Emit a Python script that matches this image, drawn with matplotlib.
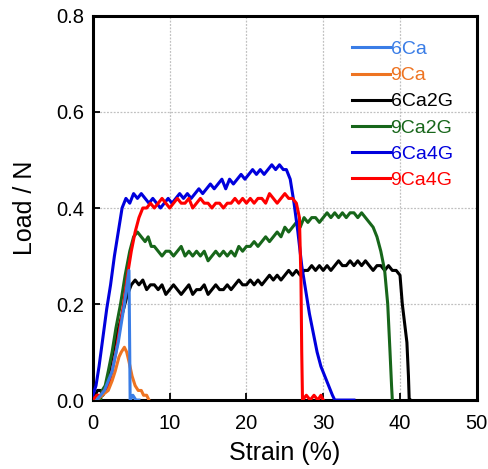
import matplotlib
matplotlib.use('Agg')
import matplotlib.pyplot as plt

plt.rcParams['font.family'] = ['Liberation Sans', 'DejaVu Sans']

# strain (%) / load (N)
s_6ca = [0.5, 1.5, 2.5, 3.3, 4.1, 4.7, 4.85, 5.2, 5.6, 6.0]
l_6ca = [0.00, 0.02, 0.06, 0.12, 0.20, 0.27, 0.00, 0.01, 0.00, 0.00]

s_9ca = [0.5, 1.2, 2.0, 2.5, 2.9, 3.4, 3.7, 4.1, 4.4, 4.7, 5.1, 5.5, 5.9, 6.3, 6.6, 7.0, 7.3]
l_9ca = [0.00, 0.01, 0.02, 0.04, 0.06, 0.09, 0.10, 0.11, 0.10, 0.08, 0.05, 0.03, 0.02, 0.02, 0.01, 0.01, 0.00]

s_6ca2g = [0.0, 0.3, 0.6, 1.0, 1.3, 1.6, 2.0, 2.5, 3.0, 3.5, 4.0, 4.5, 5.0,
           5.5, 6.0, 6.5, 7.0, 7.5, 8.0, 8.5, 9.0, 9.5, 10.0, 10.5, 11.0, 11.5,
           12.0, 12.5, 13.0, 13.5, 14.0, 14.5, 15.0, 15.5, 16.0, 16.5, 17.0,
           17.5, 18.0, 18.5, 19.0, 19.5, 20.0, 20.5, 21.0, 21.5, 22.0, 22.5,
           23.0, 23.5, 24.0, 24.5, 25.0, 25.5, 26.0, 26.5, 27.0, 27.5, 28.0,
           28.5, 29.0, 29.5, 30.0, 30.5, 31.0, 31.5, 32.0, 32.5, 33.0, 33.5,
           34.0, 34.5, 35.0, 35.5, 36.0, 36.5, 37.0, 37.5, 38.0, 38.5, 39.0,
           39.5, 40.0, 40.3, 40.6, 40.9, 41.1, 41.2, 41.3]
l_6ca2g = [0.00, 0.01, 0.02, 0.02, 0.01, 0.02, 0.05, 0.09, 0.13, 0.16, 0.19, 0.22, 0.24,
           0.25, 0.24, 0.25, 0.23, 0.24, 0.24, 0.23, 0.24, 0.22, 0.23, 0.24, 0.23, 0.22,
           0.23, 0.24, 0.22, 0.23, 0.23, 0.24, 0.22, 0.23, 0.24, 0.23, 0.23,
           0.24, 0.23, 0.24, 0.25, 0.24, 0.24, 0.25, 0.24, 0.25, 0.24, 0.25,
           0.26, 0.25, 0.26, 0.25, 0.26, 0.27, 0.26, 0.27, 0.26, 0.27, 0.27,
           0.28, 0.27, 0.28, 0.27, 0.28, 0.27, 0.28, 0.29, 0.28, 0.28, 0.29,
           0.28, 0.29, 0.28, 0.29, 0.28, 0.27, 0.28, 0.28, 0.27, 0.28, 0.27,
           0.27, 0.26, 0.20, 0.16, 0.12, 0.05, 0.00, 0.00]

s_9ca2g = [0.5, 1.0, 1.2, 1.6, 2.0, 2.5, 3.0, 3.6, 4.2, 4.8, 5.3, 5.8, 6.3, 6.8,
           7.2, 7.6, 8.0, 8.5, 9.0, 9.5, 10.0, 10.5, 11.0, 11.5, 12.0, 12.5, 13.0,
           13.5, 14.0, 14.5, 15.0, 15.5, 16.0, 16.5, 17.0, 17.5, 18.0, 18.5, 19.0,
           19.5, 20.0, 20.5, 21.0, 21.5, 22.0, 22.5, 23.0, 23.5, 24.0, 24.5, 25.0,
           25.5, 26.0, 26.5, 27.0, 27.5, 28.0, 28.5, 29.0, 29.5, 30.0, 30.5, 31.0,
           31.5, 32.0, 32.5, 33.0, 33.5, 34.0, 34.5, 35.0, 35.5, 36.0, 36.5, 37.0,
           37.5, 38.0, 38.4, 38.7, 38.9, 39.0]
l_9ca2g = [0.00, 0.00, 0.02, 0.03, 0.06, 0.10, 0.15, 0.20, 0.26, 0.31, 0.34, 0.35, 0.34, 0.33,
           0.34, 0.32, 0.32, 0.31, 0.30, 0.31, 0.31, 0.30, 0.31, 0.32, 0.30, 0.31, 0.30,
           0.31, 0.30, 0.31, 0.29, 0.30, 0.31, 0.30, 0.31, 0.30, 0.31, 0.30, 0.32,
           0.31, 0.32, 0.32, 0.33, 0.32, 0.33, 0.34, 0.33, 0.34, 0.35, 0.34, 0.36,
           0.35, 0.36, 0.37, 0.36, 0.38, 0.37, 0.38, 0.38, 0.37, 0.38, 0.39, 0.38,
           0.39, 0.38, 0.39, 0.38, 0.39, 0.39, 0.38, 0.39, 0.38, 0.37, 0.36, 0.34,
           0.31, 0.27, 0.20, 0.10, 0.03, 0.00]

s_6ca4g = [0.0, 0.4, 0.8, 1.3, 1.8, 2.3, 2.8, 3.3, 3.8, 4.3, 4.8, 5.3, 5.8, 6.3,
           6.8, 7.3, 7.8, 8.3, 8.8, 9.3, 9.8, 10.3, 10.8, 11.3, 11.8, 12.3, 12.8,
           13.3, 13.8, 14.3, 14.8, 15.3, 15.8, 16.3, 16.8, 17.3, 17.8, 18.3, 18.8,
           19.3, 19.8, 20.3, 20.8, 21.3, 21.8, 22.3, 22.8, 23.3, 23.8, 24.3, 24.8,
           25.2, 25.7, 26.2, 26.7, 27.2, 27.7, 28.2, 28.7, 29.2, 29.7, 30.2, 30.7,
           31.2, 31.5, 34.0]
l_6ca4g = [0.01, 0.03, 0.07, 0.13, 0.19, 0.24, 0.30, 0.35, 0.40, 0.42, 0.41, 0.43, 0.42, 0.43,
           0.42, 0.41, 0.42, 0.41, 0.40, 0.41, 0.42, 0.41, 0.42, 0.43, 0.42, 0.43, 0.42,
           0.43, 0.44, 0.43, 0.44, 0.45, 0.44, 0.45, 0.46, 0.44, 0.46, 0.45, 0.46,
           0.47, 0.46, 0.47, 0.48, 0.47, 0.48, 0.47, 0.48, 0.49, 0.48, 0.49, 0.48,
           0.48, 0.46, 0.41, 0.35, 0.28, 0.23, 0.18, 0.14, 0.10, 0.07, 0.05, 0.03,
           0.01, 0.00, 0.00]

s_9ca4g = [0.0, 0.5, 1.0, 1.5, 2.0, 2.5, 3.0, 3.5, 4.0, 4.5, 5.0, 5.5, 6.0, 6.5,
           7.0, 7.5, 8.0, 8.5, 9.0, 9.5, 10.0, 10.5, 11.0, 11.5, 12.0, 12.5, 13.0,
           13.5, 14.0, 14.5, 15.0, 15.5, 16.0, 16.5, 17.0, 17.5, 18.0, 18.5, 19.0,
           19.5, 20.0, 20.5, 21.0, 21.5, 22.0, 22.5, 23.0, 23.5, 24.0, 24.5, 25.0,
           25.5, 26.0, 26.5, 26.9, 27.1, 27.2, 27.3, 27.8, 28.3, 28.8, 29.3, 29.7, 30.0]
l_9ca4g = [0.00, 0.01, 0.01, 0.02, 0.03, 0.06, 0.10, 0.15, 0.20, 0.26, 0.31, 0.35, 0.38, 0.40,
           0.40, 0.41, 0.40, 0.41, 0.42, 0.41, 0.40, 0.41, 0.42, 0.41, 0.41, 0.42, 0.40,
           0.41, 0.42, 0.41, 0.41, 0.40, 0.41, 0.41, 0.40, 0.41, 0.41, 0.42, 0.41,
           0.42, 0.41, 0.42, 0.41, 0.42, 0.42, 0.41, 0.43, 0.42, 0.41, 0.42, 0.43,
           0.42, 0.42, 0.41, 0.38, 0.25, 0.10, 0.00, 0.01, 0.00, 0.01, 0.00, 0.01, 0.00]

labels = ['6Ca', '9Ca', '6Ca2G', '9Ca2G', '6Ca4G', '9Ca4G']
colors = ['#3a7de6', '#ee7422', '#000000', '#17661a', '#0000dd', '#ff0000']
zorders = [7, 6, 2, 3, 4, 5]

series = [(s_6ca, l_6ca), (s_9ca, l_9ca), (s_6ca2g, l_6ca2g),
          (s_9ca2g, l_9ca2g), (s_6ca4g, l_6ca4g), (s_9ca4g, l_9ca4g)]

fig = plt.figure(figsize=(4.89, 4.69), dpi=100)
ax = fig.add_axes([0.190, 0.147, 0.785, 0.819])

for (s, l), lab, c, z in zip(series, labels, colors, zorders):
    ax.plot(s, l, color=c, lw=2.2, label=lab, zorder=z)

ax.set_xlim(0, 50)
ax.set_ylim(0, 0.8)
ax.set_xticks([0, 10, 20, 30, 40, 50])
ax.set_yticks([0.0, 0.2, 0.4, 0.6, 0.8])
ax.set_yticklabels(['0.0', '0.2', '0.4', '0.6', '0.8'])
ax.grid(True, color='#c0c0c0', linestyle=(0, (1.5, 1.2)), lw=0.9, zorder=0)
ax.set_axisbelow(True)
ax.tick_params(direction='in', length=5, width=1.3, labelsize=14.5)
ax.tick_params(axis='x', pad=10)
ax.tick_params(axis='y', pad=6)
for sp in ax.spines.values():
    sp.set_linewidth(2.2)

ax.set_xlabel('Strain (%)', fontsize=18, labelpad=6)
ax.set_ylabel('Load / N', fontsize=18, labelpad=14)

leg = ax.legend(loc='upper left', bbox_to_anchor=(0.674, 0.936), frameon=False,
                fontsize=14, handlelength=1.95, handletextpad=0.05,
                labelspacing=0.44, borderpad=0, borderaxespad=0)
for t, c in zip(leg.get_texts(), colors):
    t.set_color(c)

fig.savefig('out.png', dpi=100)
